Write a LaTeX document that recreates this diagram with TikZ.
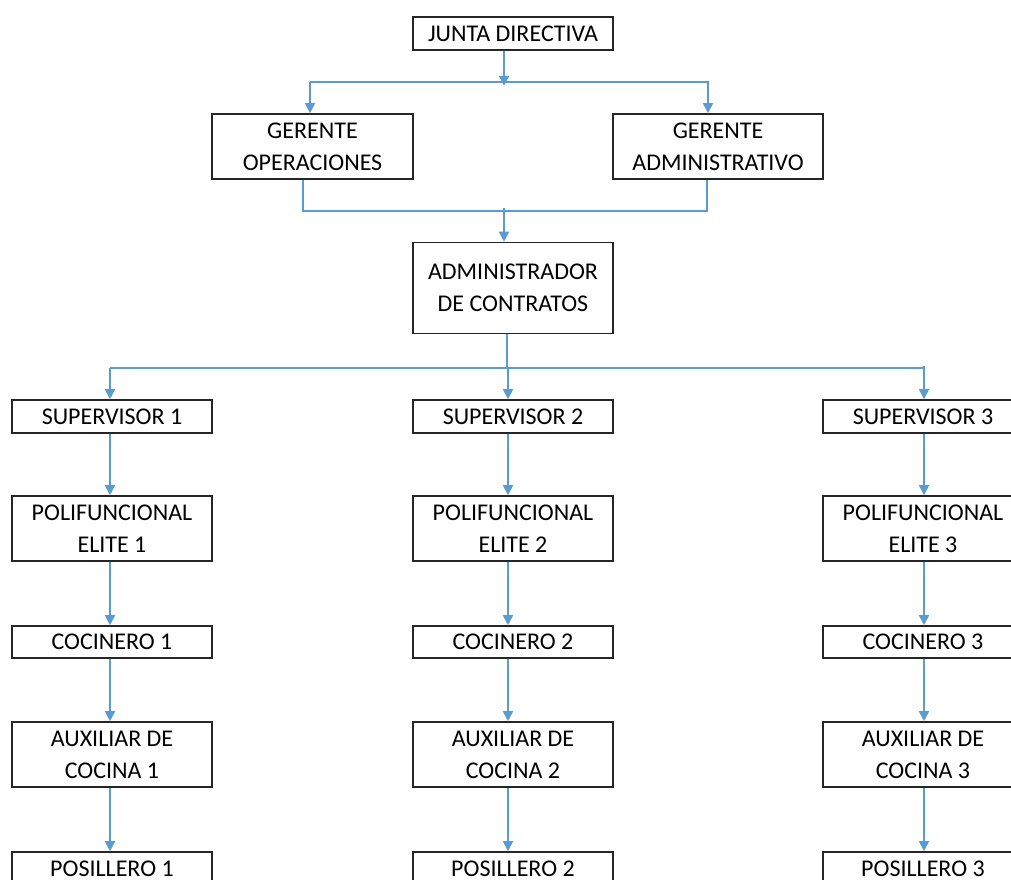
\documentclass[tikz,border=0pt]{standalone}
\usepackage{fontspec}
\setmainfont{Carlito}
\usetikzlibrary{arrows.meta,calc}
\definecolor{linkblue}{HTML}{5B9BD5}
\tikzset{
  orgbox/.style={draw=black!85, line width=1.6pt, fill=white, inner sep=0pt,
    align=center, font=\fontsize{24}{32}\selectfont, minimum width=200pt},
  link/.style={draw=linkblue, line width=1.8pt},
  arr/.style={link, -{Triangle[width=10pt,length=10pt]}},
}
\begin{document}
\begin{tikzpicture}[x=1pt,y=-1pt]
\useasboundingbox (0,0) rectangle (1011,879);
\clip (0,0) rectangle (1011,879);

% top levels
\node[orgbox, minimum height=33pt] (junta) at (513,33.5) {JUNTA DIRECTIVA};
\node[orgbox, minimum width=201pt, minimum height=65pt] (gop) at (312.5,146.5) {GERENTE\\OPERACIONES};
\node[orgbox, minimum width=210pt, minimum height=65pt] (gad) at (718,146.5) {GERENTE\\ADMINISTRATIVO};
\node[orgbox, minimum height=91pt] (adm) at (513,288) {ADMINISTRADOR\\DE CONTRATOS};

% three operating columns
\foreach \i/\cx in {1/112,2/513,3/923}{
  \node[orgbox, minimum height=33pt] (sup\i) at (\cx,416.5) {SUPERVISOR \i};
  \node[orgbox, minimum height=65pt] (pol\i) at (\cx,528.5) {POLIFUNCIONAL\\ELITE \i};
  \node[orgbox, minimum height=32pt] (coc\i) at (\cx,642) {COCINERO \i};
  \node[orgbox, minimum height=65pt] (aux\i) at (\cx,754.5) {AUXILIAR DE\\COCINA \i};
  \node[orgbox, minimum height=33pt] (pos\i) at (\cx,868.5) {POSILLERO \i};
}

% junta -> gerentes
\coordinate (jbar) at ($(junta.south)+(-9,35)$);
\coordinate (jl) at (310,82);
\coordinate (jr) at (709,82);
\draw[link] (jl) -- (jr);
\draw[arr] ([xshift=-9pt]junta.south) -- (jbar);
\draw[arr] (jl) -- (jl |- gop.north);
\draw[arr] ([xshift=-1pt]jr) -- ([xshift=-1pt]jr |- gad.north);

% gerentes -> administrador
\coordinate (gl) at (303,211);
\coordinate (gr) at (707,211);
\draw[link] (gl |- gop.south) -- (gl) -- (gr) -- (gr |- gad.south);
\draw[arr] (504,208) -- (504,0 |- adm.north);

% administrador -> supervisores
\coordinate (sl) at (110,368);
\coordinate (sr) at (925,368);
\draw[link] (507,0 |- adm.south) -- (507,368);
\draw[link] (sl) -- (sr);
\draw[arr] (sl) -- (sl |- sup1.north);
\draw[arr] (508,368) -- (508,0 |- sup2.north);
\draw[arr] (924,366) -- (924,0 |- sup3.north);

% column chains
\foreach \i/\ax in {1/110,2/508,3/924}{
  \draw[arr] (\ax,0 |- sup\i.south) -- (\ax,0 |- pol\i.north);
  \draw[arr] (\ax,0 |- pol\i.south) -- (\ax,0 |- coc\i.north);
  \draw[arr] (\ax,0 |- coc\i.south) -- (\ax,0 |- aux\i.north);
  \draw[arr] (\ax,0 |- aux\i.south) -- (\ax,0 |- pos\i.north);
}
\end{tikzpicture}
\end{document}
